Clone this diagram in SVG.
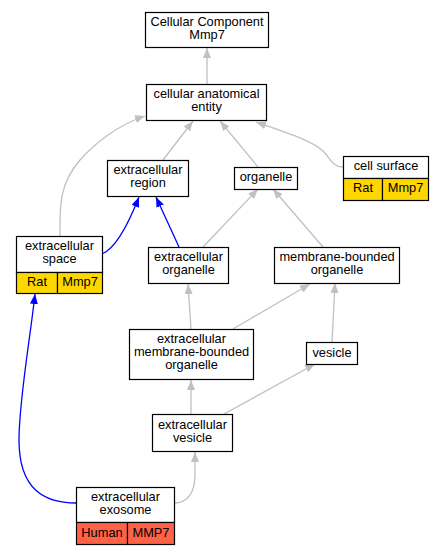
<svg xmlns="http://www.w3.org/2000/svg" width="444" height="555" viewBox="0 0 444 555">
<style>
text{font-family:"Liberation Sans",Arial,sans-serif;font-size:12.8px;text-anchor:middle;fill:#000}
.box{fill:#fff;stroke:#000;stroke-width:1.2}
.rat{fill:#ffd700;stroke:#000;stroke-width:1.2}
.hum{fill:#ff6347;stroke:#000;stroke-width:1.2}
.g{fill:none;stroke:#c0c0c0;stroke-width:1.3}
.b{fill:none;stroke:#0000ff;stroke-width:1.3}
</style>
<defs>
<marker id="ag" viewBox="0 0 10 8" refX="10" refY="4" markerWidth="10" markerHeight="8" markerUnits="userSpaceOnUse" orient="auto"><path d="M0,0 L10,4 L0,8 z" fill="#c0c0c0"/></marker>
<marker id="ab" viewBox="0 0 10 8" refX="10" refY="4" markerWidth="10" markerHeight="8" markerUnits="userSpaceOnUse" orient="auto"><path d="M0,0 L10,4 L0,8 z" fill="#0000ff"/></marker>
</defs>
<rect width="444" height="555" fill="#fff"/>
<g id="edges">
<path class="g" marker-end="url(#ag)" d="M207,84 L207,48"/>
<path class="g" marker-end="url(#ag)" d="M163,160 L193,121"/>
<path class="g" marker-end="url(#ag)" d="M258,167 L220,121"/>
<path class="g" marker-end="url(#ag)" d="M343,167 C332,167 330,157 322,150 C308,139 282,131 256,122"/>
<path class="g" marker-end="url(#ag)" d="M60,236 C60,210 58,185 80,160 C95,143 118,125 145,116"/>
<path class="b" marker-end="url(#ab)" d="M102,254 C112,250 124,235 139,197"/>
<path class="b" marker-end="url(#ab)" d="M179,247 L156,197"/>
<path class="g" marker-end="url(#ag)" d="M203,247 L258,189"/>
<path class="g" marker-end="url(#ag)" d="M323,247 L273,189"/>
<path class="g" marker-end="url(#ag)" d="M191,329 L188,284"/>
<path class="g" marker-end="url(#ag)" d="M233,329 L310,284"/>
<path class="g" marker-end="url(#ag)" d="M332,342 L335,283"/>
<path class="g" marker-end="url(#ag)" d="M191,414 L191,380"/>
<path class="g" marker-end="url(#ag)" d="M224,414 L315,364"/>
<path class="g" marker-end="url(#ag)" d="M174,503 C188,503 195,492 195,475 L195,452"/>
<path class="b" marker-end="url(#ab)" d="M76,503 C45,503 19,490 19,440 C19,400 30,340 35,294"/>
</g>
<g id="cc">
<rect class="box" x="145.5" y="12.5" width="123" height="35"/>
<text x="207" y="26">Cellular Component</text>
<text x="207" y="39">Mmp7</text>
</g>
<g id="cae">
<rect class="box" x="146.5" y="84.5" width="120" height="36"/>
<text x="206.5" y="98">cellular anatomical</text>
<text x="206.5" y="111">entity</text>
</g>
<g id="er">
<rect class="box" x="107.5" y="160.5" width="81" height="36"/>
<text x="148" y="174">extracellular</text>
<text x="148" y="187">region</text>
</g>
<g id="org">
<rect class="box" x="234.5" y="167.5" width="63" height="22"/>
<text x="266" y="181">organelle</text>
</g>
<g id="cs">
<rect class="box" x="343.5" y="156.5" width="85" height="22"/>
<rect class="rat" x="343.5" y="178.5" width="39" height="22"/>
<rect class="rat" x="382.5" y="178.5" width="46" height="22"/>
<text x="386" y="170">cell surface</text>
<text x="363" y="192">Rat</text>
<text x="405.5" y="192">Mmp7</text>
</g>
<g id="es">
<rect class="box" x="16.5" y="236.5" width="86" height="36"/>
<rect class="rat" x="16.5" y="272.5" width="41" height="21"/>
<rect class="rat" x="57.5" y="272.5" width="45" height="21"/>
<text x="59.5" y="250">extracellular</text>
<text x="59.5" y="263">space</text>
<text x="37" y="286">Rat</text>
<text x="80" y="286">Mmp7</text>
</g>
<g id="eo">
<rect class="box" x="148.5" y="247.5" width="80" height="36"/>
<text x="188.5" y="261">extracellular</text>
<text x="188.5" y="274">organelle</text>
</g>
<g id="mbo">
<rect class="box" x="274.5" y="247.5" width="125" height="36"/>
<text x="337" y="261">membrane-bounded</text>
<text x="337" y="274">organelle</text>
</g>
<g id="embo">
<rect class="box" x="129.5" y="329.5" width="124" height="50"/>
<text x="191.5" y="343">extracellular</text>
<text x="191.5" y="356">membrane-bounded</text>
<text x="191.5" y="369">organelle</text>
</g>
<g id="ves">
<rect class="box" x="306.5" y="342.5" width="51" height="22"/>
<text x="332" y="357">vesicle</text>
</g>
<g id="ev">
<rect class="box" x="152.5" y="414.5" width="80" height="37"/>
<text x="192.5" y="429">extracellular</text>
<text x="192.5" y="442">vesicle</text>
</g>
<g id="exo">
<rect class="box" x="76.5" y="487.5" width="98" height="35"/>
<rect class="hum" x="76.5" y="522.5" width="51" height="22"/>
<rect class="hum" x="127.5" y="522.5" width="47" height="22"/>
<text x="125.5" y="501">extracellular</text>
<text x="125.5" y="514">exosome</text>
<text x="102" y="537">Human</text>
<text x="151" y="537">MMP7</text>
</g>
</svg>
